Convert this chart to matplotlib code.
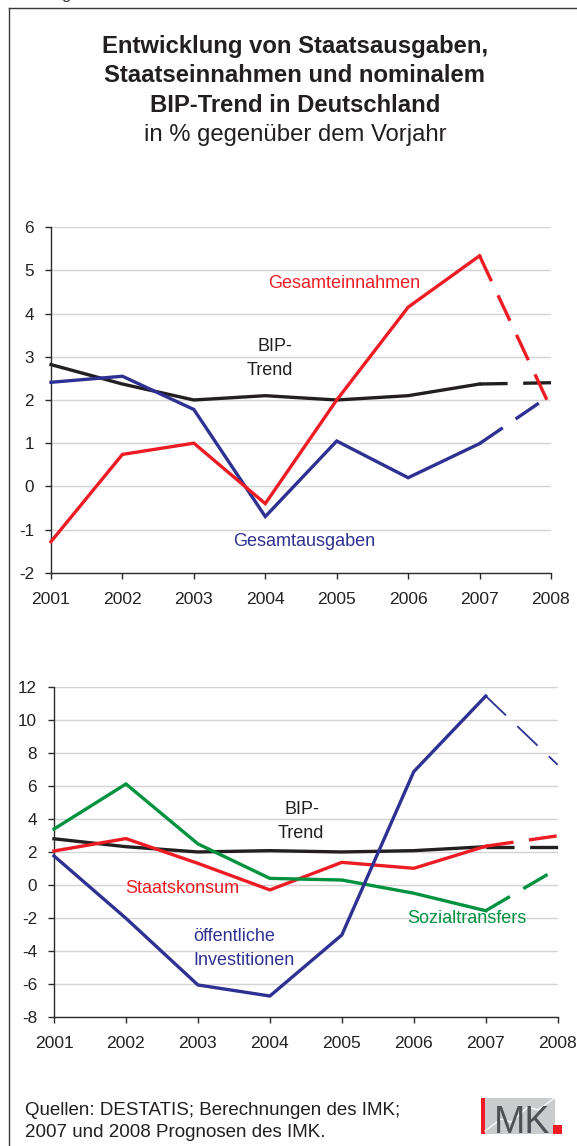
import matplotlib
matplotlib.use("Agg")
import matplotlib.pyplot as plt
from matplotlib.patches import Rectangle
from matplotlib.lines import Line2D

plt.rcParams['font.family'] = ['Liberation Sans', 'DejaVu Sans']
plt.rcParams['lines.scale_dashes'] = False  # dash lengths in points

# data (in % gegenüber dem Vorjahr), 2007 and 2008 forecasts
years = [2001, 2002, 2003, 2004, 2005, 2006, 2007, 2008]

bip_trend_oben = [2.82, 2.37, 2.00, 2.10, 2.00, 2.10, 2.37, 2.40]
gesamteinnahmen = [-1.28, 0.74, 1.00, -0.40, 2.00, 4.15, 5.34, 1.80]
gesamtausgaben = [2.41, 2.55, 1.78, -0.70, 1.05, 0.20, 0.99, 2.12]

bip_trend_unten = [2.82, 2.34, 2.02, 2.10, 2.02, 2.10, 2.34, 2.34]
staatskonsum = [2.08, 2.83, 1.33, -0.28, 1.39, 1.03, 2.37, 3.00]
sozialtransfers = [3.41, 6.14, 2.51, 0.42, 0.32, -0.48, -1.54, 1.02]
investitionen = [1.78, -2.00, -6.04, -6.71, -3.01, 6.89, 11.47, 7.30]

RED = '#ed1c24'
BLUE = '#2e3192'
GREEN = '#00923f'
BLACK = '#231f20'
GRID = '#d3d3d3'
AXC = '#2b2b2b'

W, H = 577, 1146
fig = plt.figure(figsize=(W / 100, H / 100), dpi=100)


def px_box(x0, y0, x1, y1):
    # pixel box (top-left origin) -> figure fraction rect
    return [x0 / W, 1 - y1 / H, (x1 - x0) / W, (y1 - y0) / H]


def draw_series(ax, vals, color, lw=2.4, lw_dash=None, z=2):
    # measured years solid, forecast 2007->2008 dashed
    ax.plot(years[:7], vals[:7], color=color, lw=lw, solid_joinstyle='miter',
            clip_on=False, zorder=z)
    ax.plot(years[6:], vals[6:], color=color, lw=lw_dash or lw,
            linestyle=(0, (20.2, 11.2)), dash_capstyle='butt',
            clip_on=False, zorder=z)


def style_axes(ax, ylim, yticks, xpad):
    ax.set_xlim(2001, 2008)
    ax.set_ylim(*ylim)
    ax.set_xticks(years)
    ax.set_yticks(yticks)
    ax.set_xticklabels([str(y) for y in years])
    ax.set_yticklabels([str(t) for t in yticks])
    for s in ['top', 'right']:
        ax.spines[s].set_visible(False)
    for s in ['left', 'bottom']:
        ax.spines[s].set_color(AXC)
        ax.spines[s].set_linewidth(1.0)
    ax.yaxis.grid(True, color=GRID, lw=1.0)
    ax.set_axisbelow(True)
    ax.tick_params(axis='y', direction='out', length=4.2, width=1.0, color=AXC,
                   labelsize=12.3, labelcolor='#222222', pad=8)
    ax.tick_params(axis='x', direction='out', length=4.2, width=1.0, color=AXC,
                   labelsize=12.6, labelcolor='#222222', pad=xpad)
    ax.patch.set_alpha(0)


# --- frame and title ---
fig.add_artist(Line2D([9.3 / W, 1], [1 - 8.3 / H] * 2, transform=fig.transFigure,
                      color='#3a3a3a', lw=1.0))
fig.add_artist(Line2D([9.3 / W] * 2, [1 - 8.3 / H, 0], transform=fig.transFigure,
                      color='#3a3a3a', lw=1.0))
fig.text(66 / W, 1 + 1 / H, "g", fontsize=12, color='#333333', ha='center', va='baseline')

title_lines = ["Entwicklung von Staatsausgaben,",
               "Staatseinnahmen und nominalem",
               "BIP-Trend in Deutschland"]
for line, yc in zip(title_lines, [46, 75.5, 105]):
    fig.text(295 / W, 1 - yc / H, line, ha='center', va='center',
             fontsize=17.2, fontweight='bold', color='#231f20')
fig.text(295 / W, 1 - 134.5 / H, "in % gegenüber dem Vorjahr", ha='center', va='center',
         fontsize=17.2, color='#231f20')

# --- upper chart ---
ax1 = fig.add_axes(px_box(51, 227.3, 551, 572.7))
style_axes(ax1, (-2, 6), list(range(-2, 7)), xpad=10)
draw_series(ax1, bip_trend_oben, BLACK, z=2)
draw_series(ax1, gesamtausgaben, BLUE, z=3)
draw_series(ax1, gesamteinnahmen, RED, z=4)

ax1.text(2005.10, 4.69, "Gesamteinnahmen", color=RED, fontsize=13, ha='center', va='center')
ax1.text(2004.13, 3.23, "BIP-", color=BLACK, fontsize=13, ha='center', va='center')
ax1.text(2004.07, 2.69, "Trend", color=BLACK, fontsize=13, ha='center', va='center')
ax1.text(2004.54, -1.28, "Gesamtausgaben", color=BLUE, fontsize=13, ha='center', va='center')

# --- lower chart ---
ax2 = fig.add_axes(px_box(54, 687.3, 557.7, 1017.3))
style_axes(ax2, (-8, 12), list(range(-8, 13, 2)), xpad=9)
draw_series(ax2, bip_trend_unten, BLACK, z=2)
draw_series(ax2, staatskonsum, RED, z=3)
draw_series(ax2, sozialtransfers, GREEN, z=4)
draw_series(ax2, investitionen, BLUE, lw_dash=1.3, z=5)

ax2.text(2004.44, 4.61, "BIP-", color=BLACK, fontsize=13, ha='center', va='center')
ax2.text(2004.43, 3.15, "Trend", color=BLACK, fontsize=13, ha='center', va='center')
ax2.text(2002.78, -0.18, "Staatskonsum", color=RED, fontsize=13, ha='center', va='center')
ax2.text(2006.74, -2.04, "Sozialtransfers", color=GREEN, fontsize=13, ha='center', va='center')
ax2.text(2002.93, -3.11, "öffentliche", color=BLUE, fontsize=13, ha='left', va='center')
ax2.text(2002.93, -4.53, "Investitionen", color=BLUE, fontsize=13, ha='left', va='center')

# --- footer ---
fig.text(25 / W, 1 - 1115 / H, "Quellen: DESTATIS; Berechnungen des IMK;",
         fontsize=13.5, color='#231f20', va='baseline')
fig.text(25 / W, 1 - 1137.3 / H, "2007 und 2008 Prognosen des IMK.",
         fontsize=13.5, color='#231f20', va='baseline')

# --- IMK logo ---
lg = fig.add_axes(px_box(481, 1097, 562, 1134))
lg.set_xlim(0, 81)
lg.set_ylim(0, 37)
lg.axis('off')
lg.add_patch(Rectangle((0, 0), 73.5, 36, color='#c9cbcd', lw=0))
lg.plot([4, 20, 30, 47, 57, 73.5], [3, 15, 12, 27, 24, 36], color='white', lw=0.9)
lg.add_patch(Rectangle((0, 0), 3.6, 36, color=RED, lw=0))
lg.add_patch(Rectangle((71.7, 0), 9.3, 9.3, color=RED, lw=0))
lg.text(12.5, 1.0, "MK", fontsize=27, color='#4d5054', ha='left', va='baseline')

fig.savefig("out.png", dpi=100)
